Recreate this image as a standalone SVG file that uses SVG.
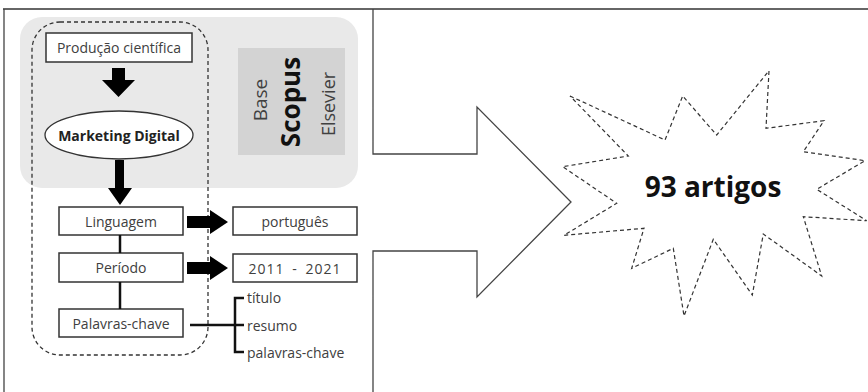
<svg xmlns="http://www.w3.org/2000/svg" width="868" height="392" viewBox="0 0 868 392">
<style>
.t{font-family:"Open Sans","Liberation Sans",sans-serif;font-size:14px;fill:#404040;text-anchor:middle;dominant-baseline:central}
.tl{font-family:"Open Sans","Liberation Sans",sans-serif;font-size:14px;fill:#404040;dominant-baseline:central}
.box{fill:#fff;stroke:#333;stroke-width:1.5}
.blk{fill:#000;stroke:none}
.ln{stroke:#111;stroke-width:2.5;fill:none}
</style>
<rect width="868" height="392" fill="#fff"/>
<g id="frame">
<line x1="3" y1="9" x2="868" y2="9" stroke="#333" stroke-width="1.5"/>
<path d="M4,9 V392 M373,9 V154 H477 V107 L571,202 L477,297 V251 H373 V392" fill="#fff" stroke="#444" stroke-width="1.3"/>
</g>
<g id="scopus-area">
<rect x="20" y="17" width="338" height="171" rx="22" fill="#e9e9e9"/>
<rect x="238" y="48" width="107" height="107" fill="#d3d3d3"/>
<text class="t" transform="translate(260,100) rotate(-90)" style="font-size:19px">Base</text>
<text class="t" transform="translate(290,102) rotate(-90)" style="font-size:26px;font-weight:700;fill:#111">Scopus</text>
<text class="t" transform="translate(328,104) rotate(-90)" style="font-size:18px">Elsevier</text>
</g>
<g id="dashed-group">
<rect x="32" y="22" width="176" height="333" rx="28" fill="none" stroke="#333" stroke-width="1.3" stroke-dasharray="4 3"/>
</g>
<g id="producao">
<rect class="box" x="46" y="33" width="146" height="29"/>
<text class="t" x="119" y="47.5">Produção científica</text>
</g>
<g id="marketing">
<ellipse cx="119" cy="135" rx="74" ry="24" fill="#fff" stroke="#333" stroke-width="1.3"/>
<text class="t" x="119" y="135" style="font-weight:700;fill:#222">Marketing Digital</text>
</g>
<g id="linguagem">
<rect class="box" x="59" y="207" width="124" height="28"/>
<text class="t" x="121" y="221">Linguagem</text>
</g>
<g id="periodo">
<rect class="box" x="59" y="253" width="124" height="29"/>
<text class="t" x="121" y="267">Período</text>
</g>
<g id="palavras">
<rect class="box" x="59" y="309" width="124" height="28"/>
<text class="t" x="121" y="323">Palavras-chave</text>
</g>
<g id="portugues">
<rect class="box" x="233" y="207" width="124" height="28"/>
<text class="t" x="295" y="221">português</text>
</g>
<g id="anos">
<rect class="box" x="233" y="254" width="124" height="28"/>
<text class="t" x="295" y="268" style="letter-spacing:1px;word-spacing:3px">2011 - 2021</text>
</g>
<g id="campos">
<text class="tl" x="247" y="297">título</text>
<text class="tl" x="247" y="325">resumo</text>
<text class="tl" x="247" y="352">palavras-chave</text>
</g>
<g id="resultado">
<polygon points="570,96 665,140 682.7,96 716.7,135 769,70.7 766,128.3 824,120.7 803.3,151.7 865,160.7 816.7,189.3 866.7,220.7 803.3,216.7 821.7,276 763.3,234 752.3,295 713.3,239.3 684,316 673.3,248.3 631.7,268.3 644,228.3 564,235.3 616.7,203.3 562.7,166.7 628.3,156" fill="#fff" stroke="#333" stroke-width="1.2" stroke-dasharray="4 3"/>
<text class="t" x="713" y="186" style="font-size:28px;font-weight:700;fill:#111">93 artigos</text>
</g>
<g id="connectors">
<polygon class="blk" points="112,68 125,68 125,80 135,80 118.5,97 102,80 112,80"/>
<polygon class="blk" points="115,160 124,160 124,188 132,188 120,205 108,188 115,188"/>
<polygon class="blk" points="187,216 210,216 210,210 228,222 210,234 210,228 187,228"/>
<polygon class="blk" points="187,262 210,262 210,256 228,268 210,280 210,274 187,274"/>
<line class="ln" x1="120" y1="235" x2="120" y2="253"/>
<line class="ln" x1="120" y1="282" x2="120" y2="309"/>
<line class="ln" x1="190" y1="325" x2="235" y2="325"/>
<path class="ln" d="M244,298 H235 V352 H244 M235,325 H244"/>
</g>
</svg>
